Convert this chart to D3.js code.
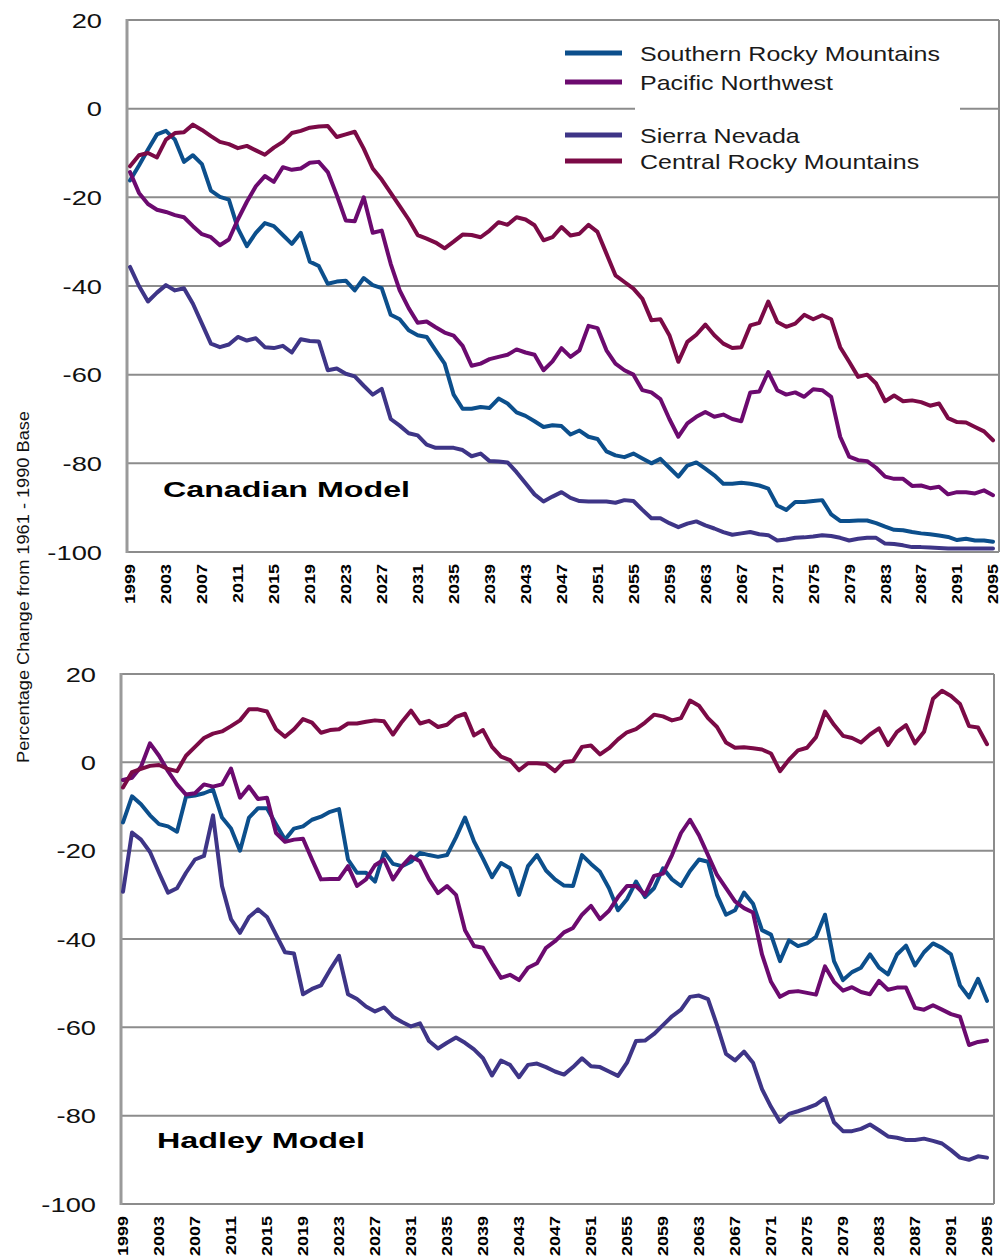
<!DOCTYPE html>
<html><head><meta charset="utf-8">
<script src="https://cdn.jsdelivr.net/npm/d3@7"></script>
<style>body{margin:0;background:#fff}svg{display:block}text{font-family:"Liberation Sans",Arial,sans-serif}</style>
</head><body>
<svg id="chart" width="1002" height="1259"></svg>
<script>
// ---------- data ----------
const years = d3.range(1999, 2096);
const xTickLabels = ["1999","2003","2007","2011","2015","2019","2023","2027","2031","2035","2039","2043","2047","2051","2055","2059","2063","2067","2071","2075","2079","2083","2087","2091","2095"];
const yTickValues = [20, 0, -20, -40, -60, -80, -100];
const seriesNames = ["Southern Rocky Mountains", "Pacific Northwest", "Sierra Nevada", "Central Rocky Mountains"];
const seriesColors = ["#0c4f8c", "#6c0a6f", "#3e3587", "#7b0a46"];
const panelTitles = ["Canadian Model", "Hadley Model"];
const yAxisTitle = "Percentage Change from 1961 - 1990 Base";

const canadianSRM = [-16.2,-12.8,-9.2,-5.8,-5,-7,-12,-10.5,-12.5,-18.5,
 -19.9,-20.5,-27,-31,-28,-25.8,-26.5,-28.5,-30.5,-28,
 -34.5,-35.5,-39.5,-39,-38.8,-41,-38.2,-39.8,-40.5,-46.5,
 -47.5,-50,-51.1,-51.5,-54.5,-57.5,-64.5,-67.7,-67.7,-67.3,
 -67.5,-65.4,-66.5,-68.5,-69.3,-70.5,-71.8,-71.4,-71.6,-73.5,
 -72.6,-74,-74.5,-77.3,-78.2,-78.6,-77.8,-78.9,-80,-79,
 -81,-83,-80.5,-79.8,-81.2,-82.7,-84.6,-84.6,-84.4,-84.6,
 -85,-85.7,-89.5,-90.5,-88.7,-88.7,-88.5,-88.3,-91.5,-93,
 -93,-92.9,-92.9,-93.5,-94.3,-95,-95.1,-95.5,-95.8,-96,
 -96.3,-96.6,-97.3,-97,-97.4,-97.4,-97.7];
const canadianPNW = [-14.3,-19,-21.5,-22.8,-23.3,-24,-24.5,-26.5,-28.3,-29,
 -30.8,-29.5,-25,-21,-17.5,-15.2,-16.5,-13.2,-13.8,-13.5,
 -12.2,-12,-14.3,-19.5,-25.2,-25.4,-20,-28,-27.5,-35,
 -41,-45,-48.3,-48,-49.3,-50.5,-51.2,-53.5,-58,-57.5,
 -56.5,-56,-55.5,-54.3,-55,-55.5,-59,-57,-54,-56,
 -54.5,-49,-49.5,-54.5,-57.5,-59,-60,-63.5,-64,-65.5,
 -70,-74,-71,-69.5,-68.4,-69.5,-69,-70,-70.5,-64,
 -63.8,-59.4,-63.5,-64.5,-64,-65,-63.3,-63.5,-65,-74,
 -78.5,-79.3,-79.5,-81,-83,-83.5,-83.5,-85.1,-85,-85.6,
 -85.3,-87,-86.5,-86.5,-86.8,-86.1,-87.2];
const canadianSN = [-35.7,-40,-43.5,-41.5,-39.8,-41,-40.5,-44,-48.5,-53,
 -53.8,-53.2,-51.5,-52.3,-51.8,-53.8,-54,-53.5,-55,-52,
 -52.4,-52.5,-59,-58.6,-59.8,-60.4,-62.5,-64.5,-63.2,-70,
 -71.5,-73.2,-73.7,-75.8,-76.5,-76.5,-76.5,-77,-78.4,-77.8,
 -79.5,-79.6,-79.8,-82,-84.5,-87,-88.6,-87.5,-86.5,-87.8,
 -88.5,-88.6,-88.6,-88.6,-88.9,-88.3,-88.5,-90.5,-92.4,-92.4,
 -93.5,-94.4,-93.6,-93.1,-94,-94.7,-95.5,-96.1,-95.8,-95.5,
 -96,-96.2,-97.4,-97.2,-96.8,-96.7,-96.5,-96.2,-96.4,-96.8,
 -97.4,-97,-96.8,-96.8,-98.1,-98.2,-98.5,-98.9,-98.9,-99,
 -99.1,-99.2,-99.2,-99.2,-99.2,-99.2,-99.2];
const canadianCRM = [-13,-10.5,-10,-11,-7,-5.5,-5.3,-3.6,-4.8,-6.2,
 -7.5,-8,-8.9,-8.4,-9.4,-10.4,-8.8,-7.5,-5.5,-5,
 -4.3,-4,-3.9,-6.4,-5.8,-5.2,-9,-13.5,-16,-19,
 -22,-25,-28.5,-29.3,-30.2,-31.5,-30,-28.4,-28.5,-29,
 -27.5,-25.6,-26.2,-24.5,-25,-26.3,-29.7,-29,-26.7,-28.6,
 -28.2,-26.2,-27.8,-32.7,-37.6,-39.1,-40.6,-42.9,-47.7,-47.5,
 -51.1,-57.1,-52.6,-51,-48.7,-51.1,-53,-54,-53.8,-48.9,
 -48.3,-43.5,-48.1,-49.2,-48.5,-46.5,-47.5,-46.6,-47.5,-53.8,
 -57.1,-60.5,-60,-62,-66,-64.7,-66,-65.8,-66.2,-67,
 -66.5,-69.8,-70.7,-70.8,-71.8,-72.8,-74.8];

const hadleySRM = [-13.6,-7.7,-9.5,-12,-14,-14.5,-15.7,-7.8,-7.5,-7,
 -6.2,-12.5,-15,-20,-12.5,-10.4,-10.4,-14,-17.5,-15,
 -14.5,-13,-12.3,-11.2,-10.6,-22,-25,-25,-27,-20.3,
 -23,-23.5,-22.5,-20.5,-21,-21.4,-21,-17,-12.5,-17.9,
 -21.8,-26,-22.8,-24,-30,-23.5,-21,-24.5,-26.5,-27.9,
 -28,-21,-23,-24.8,-28.5,-33.5,-31,-27,-30.5,-28.5,
 -24,-26.5,-28,-24.6,-22,-22.5,-30,-34.5,-33.5,-29.5,
 -32,-38,-39,-45,-40.3,-41.6,-41,-39.5,-34.5,-45,
 -49.3,-47.5,-46.5,-43.5,-46.5,-48,-43.5,-41.5,-46,-43,
 -41,-42,-43.5,-50.5,-53.2,-49,-54];
const hadleyPNW = [-4,-3.5,-1,4.3,1.5,-2,-5,-7.3,-7,-5,
 -5.5,-5,-1.4,-8,-5.5,-8.3,-8,-16,-18,-17.5,
 -17.3,-22,-26.5,-26.4,-26.4,-23.5,-28,-26.5,-23.3,-22,
 -26.5,-23.5,-21.3,-22.4,-26.5,-29.6,-28,-30,-38,-41.6,
 -42,-45.5,-48.8,-48.1,-49.3,-46.5,-45.5,-42,-40.5,-38.5,
 -37.5,-34.5,-32.5,-35.5,-33.6,-30.5,-28,-28,-30,-25.7,
 -25.2,-21,-16,-13,-16.5,-21,-25.5,-28.5,-31.5,-33,
 -34,-43.5,-49.7,-53.1,-52,-51.8,-52.2,-52.6,-46.2,-49.7,
 -51.7,-50.9,-52,-52.5,-49.5,-51.5,-51,-51,-55.6,-56,
 -55,-56,-57,-57.6,-64,-63.3,-63];
const hadleySN = [-29.3,-15.9,-17.5,-20.3,-25,-29.5,-28.5,-25,-22,-21.2,
 -12,-28,-35.5,-38.6,-35,-33.3,-35,-39,-43,-43.3,
 -52.5,-51.3,-50.5,-47,-43.8,-52.5,-53.6,-55.3,-56.4,-55.5,
 -57.6,-58.8,-59.8,-59.1,-63.1,-64.8,-63.5,-62.3,-63.5,-65,
 -67,-70.9,-67.5,-68.5,-71.3,-68.5,-68.2,-69,-70,-70.7,
 -69,-67,-68.8,-69,-70,-71,-68,-63.1,-63,-61.5,
 -59.5,-57.5,-56,-53.1,-52.8,-53.6,-59.5,-66,-67.5,-65.5,
 -68,-74,-78,-81.4,-79.6,-79,-78.3,-77.5,-76,-81.5,
 -83.5,-83.5,-83,-82,-83.3,-84.7,-85,-85.5,-85.5,-85.2,
 -85.7,-86.3,-87.8,-89.5,-90,-89.2,-89.5];
const hadleyCRM = [-5.7,-2.2,-1.5,-0.8,-0.6,-1.5,-2,1.5,3.5,5.5,
 6.5,7,8.2,9.5,12,12,11.5,7.5,5.8,7.5,
 9.8,9,6.7,7.3,7.5,8.8,8.8,9.2,9.5,9.3,
 6.3,9.2,11.7,8.8,9.4,8,8.5,10.3,11,6.1,
 7.3,3.5,1.3,0.5,-1.8,-0.2,-0.2,-0.4,-2,0.1,
 0.3,3.5,3.8,1.8,3.2,5.2,6.8,7.5,9,10.8,
 10.4,9.5,10,14,12.8,10,8,4.5,3.3,3.4,
 3.2,2.9,2,-2,0.6,2.7,3.3,5.7,11.5,8.5,
 6,5.5,4.5,6.3,7.7,3.9,6.9,8.4,4.3,6.9,
 14.4,16.2,15,13.2,8.2,7.9,4.1];

// ---------- layout ----------
const panels = [
  {title: panelTitles[0], series: [canadianSRM, canadianPNW, canadianSN, canadianCRM],
   axisX: 127, right: 999, x0: 130, x1: 993, top: 20, bottom: 552, titleX: 163, titleY: 497, titleW: 247},
  {title: panelTitles[1], series: [hadleySRM, hadleyPNW, hadleySN, hadleyCRM],
   axisX: 121, right: 994, x0: 123, x1: 987, top: 674, bottom: 1204, titleX: 157, titleY: 1148, titleW: 208}
];

const svg = d3.select("#chart");
const gridColor = "#8c8c8c";

panels.forEach((p, pi) => {
  const x = d3.scaleLinear().domain([years[0], years[years.length - 1]]).range([p.x0, p.x1]);
  const y = d3.scaleLinear().domain([-100, 20]).range([p.bottom, p.top]);
  const g = svg.append("g");

  // gridlines
  g.selectAll("line.grid").data(yTickValues).enter().append("line")
    .attr("x1", p.axisX).attr("x2", p.right)
    .attr("y1", d => y(d)).attr("y2", d => y(d))
    .attr("stroke", gridColor).attr("stroke-width", 2);
  // right border
  g.append("line").attr("x1", p.right).attr("x2", p.right).attr("y1", y(20)).attr("y2", y(-100))
    .attr("stroke", gridColor).attr("stroke-width", 2);
  // left axis
  g.append("line").attr("x1", p.axisX).attr("x2", p.axisX).attr("y1", y(20) - 1).attr("y2", y(-100) + 1)
    .attr("stroke", "#9a9a9a").attr("stroke-width", 3);

  // white patch behind legend area (top panel)
  if (pi === 0) {
    g.append("rect").attr("x", 635).attr("y", y(0) - 6).attr("width", 325).attr("height", 12).attr("fill", "#fff");
  }

  // y tick labels
  g.selectAll("text.yt").data(yTickValues).enter().append("text")
    .attr("transform", d => `translate(${p.axisX - 25},${y(d)}) scale(1.3,1)`)
    .attr("text-anchor", "end").attr("dy", "0.36em")
    .attr("font-size", 21).attr("fill", "#111")
    .text(d => d);

  // x tick labels (rotated)
  g.selectAll("text.xt").data(xTickLabels).enter().append("text")
    .attr("transform", d => `translate(${x(+d)},${p.bottom + 12}) rotate(-90) scale(1.2,1)`)
    .attr("text-anchor", "end").attr("dy", "0.36em")
    .attr("font-size", 15).attr("font-weight", "bold").attr("fill", "#000")
    .text(d => d);

  // lines
  const line = d3.line().x((d, i) => x(years[i])).y(d => y(d));
  p.series.forEach((s, si) => {
    g.append("path").datum(s).attr("d", line)
      .attr("fill", "none").attr("stroke", seriesColors[si]).attr("stroke-width", 4)
      .attr("stroke-linejoin", "round").attr("stroke-linecap", "round");
  });

  // panel title
  g.append("text").attr("x", p.titleX).attr("y", p.titleY)
    .attr("font-size", 22).attr("font-weight", "bold").attr("fill", "#000")
    .attr("textLength", p.titleW).attr("lengthAdjust", "spacingAndGlyphs")
    .text(p.title);
});

// legend
const legendRows = [53, 82, 135, 161];
const lg = svg.append("g");
seriesNames.forEach((name, i) => {
  lg.append("line").attr("x1", 565).attr("x2", 622).attr("y1", legendRows[i]).attr("y2", legendRows[i])
    .attr("stroke", seriesColors[i]).attr("stroke-width", 5);
  lg.append("text").attr("transform", `translate(640,${legendRows[i]}) scale(1.19,1)`)
    .attr("dy", "0.36em").attr("font-size", 21).attr("fill", "#1a1a1a")
    .text(name);
});

// y axis title
svg.append("text")
  .attr("transform", "translate(29,587) rotate(-90)")
  .attr("text-anchor", "middle").attr("font-size", 16).attr("fill", "#111")
  .attr("textLength", 352).attr("lengthAdjust", "spacingAndGlyphs")
  .text(yAxisTitle);
</script>
</body></html>
